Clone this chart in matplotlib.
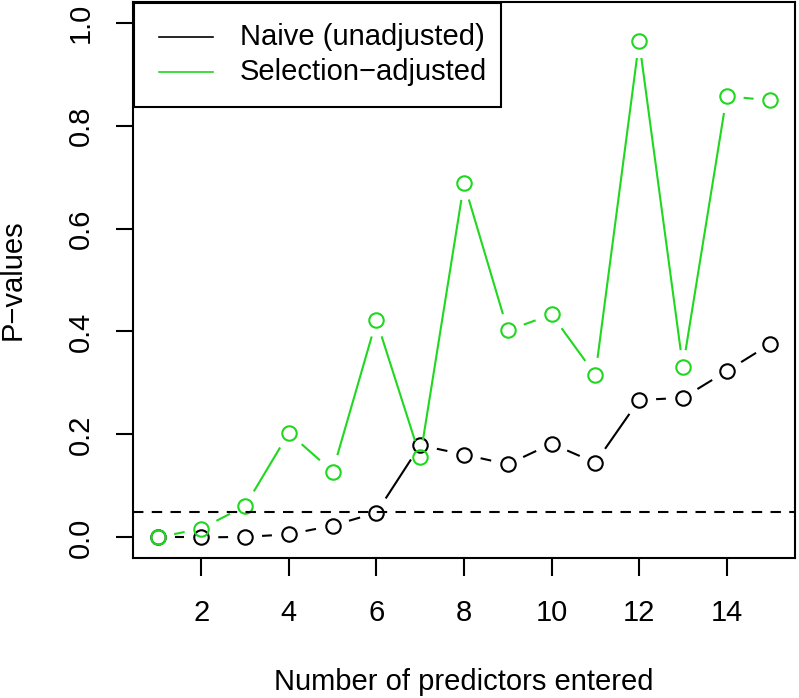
import numpy as np
import matplotlib
matplotlib.use("Agg")
import matplotlib.pyplot as plt
from matplotlib.collections import LineCollection
from matplotlib.lines import Line2D
from matplotlib.patches import Rectangle

# ---- data ----
steps = [1, 2, 3, 4, 5, 6, 7, 8, 9, 10, 11, 12, 13, 14, 15]
naive = [0.000, 0.000, 0.001, 0.006, 0.023, 0.048, 0.179, 0.161, 0.142, 0.182,
         0.145, 0.267, 0.271, 0.323, 0.376]
adjusted = [0.000, 0.017, 0.061, 0.203, 0.128, 0.422, 0.156, 0.688, 0.402, 0.433,
            0.316, 0.964, 0.331, 0.857, 0.849]
alpha_level = 0.05
xticks = [2, 4, 6, 8, 10, 12, 14]
yticks = [0.0, 0.2, 0.4, 0.6, 0.8, 1.0]
labels = ["Naive (unadjusted)", "Selection\u2212adjusted"]
xlabel = "Number of predictors entered"
ylabel = "P\u2212values"

GREEN = "#1fd81f"
FS = 21
plt.rcParams['font.family'] = ['Liberation Sans', 'DejaVu Sans']

W, H = 799, 698
fig = plt.figure(figsize=(W / 100, H / 100), dpi=100)
ax = fig.add_axes([133 / W, 1 - 558 / H, (795 - 133) / W, (558 - 2) / H])
ax.set_xlim(0.44, 15.56)
ax.set_ylim(-0.04, 1.04)

LW = 1.5
GAP = 17  # pixels, like R type="b"


def gapped(x, y, color):
    pts = ax.transData.transform(np.column_stack([x, y]))
    inv = ax.transData.inverted()
    segs = []
    for p0, p1 in zip(pts[:-1], pts[1:]):
        d = p1 - p0
        L = np.hypot(*d)
        if L > 2 * GAP:
            u = d / L
            segs.append(inv.transform(np.array([p0 + u * GAP, p1 - u * GAP])))
    ax.add_collection(LineCollection(segs, colors=color, linewidths=LW,
                                     capstyle='butt'))
    ax.plot(x, y, linestyle='none', marker='o', ms=10.4, mew=1.5,
            mfc='none', mec=color)


gapped(steps, naive, 'black')
gapped(steps, adjusted, GREEN)
ax.axhline(alpha_level, color='black', lw=LW, dashes=(5.0, 4.0))

# axes styling
for s in ax.spines.values():
    s.set_linewidth(1.5)
ax.set_xticks(xticks)
ax.set_xticklabels([str(t) for t in xticks])
ax.set_yticks(yticks)
ax.set_yticklabels([f"{t:.1f}" for t in yticks], rotation=90, va='center')
ax.tick_params(axis='both', length=12.6, width=1.5, labelsize=FS)
ax.tick_params(axis='x', pad=17)
ax.tick_params(axis='y', pad=15)

ax.set_xlabel(xlabel, fontsize=FS)
ax.xaxis.set_label_coords(0.5, (558 - 682) / 556)
ax.xaxis.label.set_va('center')
ax.set_ylabel(ylabel, fontsize=FS)
ax.yaxis.set_label_coords((13 - 133) / 662, 0.5)
ax.yaxis.label.set_va('center')

# legend (R style, top-left)
axW, axH = 662, 556
def ax_x(px):
    return (px - 133) / axW
def ax_y(py):
    return (558 - py) / axH

ax.add_patch(Rectangle((ax_x(134), ax_y(107.3)), ax_x(501) - ax_x(134),
                       ax_y(2.7) - ax_y(107.3), transform=ax.transAxes,
                       facecolor='white', edgecolor='black', lw=1.5,
                       zorder=5, clip_on=False))
for lab, col, py in zip(labels, ['black', GREEN], [37.3, 71.7]):
    ax.add_line(Line2D([ax_x(159.3), ax_x(213.3)], [ax_y(py), ax_y(py)],
                       transform=ax.transAxes, color=col, lw=1.2, zorder=6))
    ax.text(ax_x(239.5), ax_y(py), lab, transform=ax.transAxes, fontsize=FS,
            ha='left', va='center', zorder=6)

fig.savefig("out.png", dpi=100)
